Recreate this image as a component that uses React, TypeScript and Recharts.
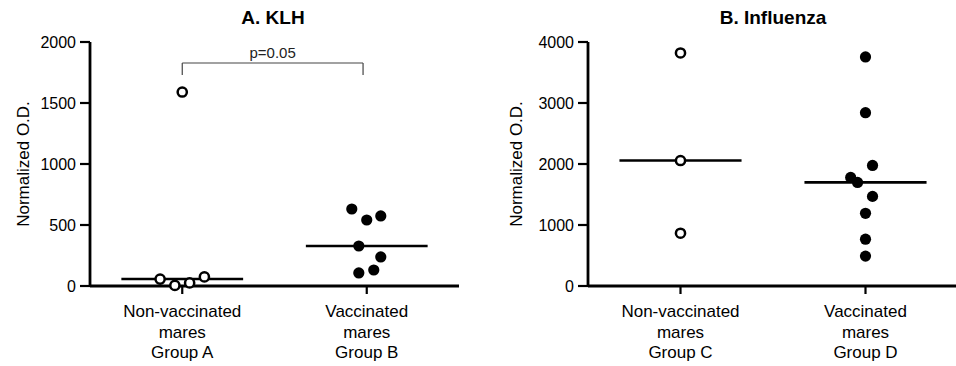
import React from 'react'
import { ScatterChart, Scatter, XAxis, YAxis, ReferenceLine } from 'recharts'

const FONT = '"Liberation Sans", Arial, sans-serif'

// panel A: KLH
const klhCategories = [
    ['Non-vaccinated', 'mares', 'Group A'],
    ['Vaccinated', 'mares', 'Group B'],
]
const klhTicks = [0, 500, 1000, 1500, 2000]
const groupAValues = [1590, 57, 5, 25, 74]
const groupAJitter = [0, -0.12, -0.04, 0.04, 0.12]
const groupBValues = [631, 541, 574, 328, 238, 107, 131]
const groupBJitter = [-0.081, 0, 0.076, -0.043, 0.076, -0.043, 0.038]
const klhMedians = [57, 328]
const klhPValue = 'p=0.05'
const klhBracket = { y: 1828, leg: 1730, from: 0.5, to: 1.48 }

// panel B: Influenza
const fluCategories = [
    ['Non-vaccinated', 'mares', 'Group C'],
    ['Vaccinated', 'mares', 'Group D'],
]
const fluTicks = [0, 1000, 2000, 3000, 4000]
const groupCValues = [3820, 2057, 865]
const groupCJitter = [0, 0, 0]
const groupDValues = [3755, 2841, 1976, 1780, 1698, 1469, 1192, 767, 490]
const groupDJitter = [0, 0, 0.038, -0.08, -0.043, 0.038, 0, 0, 0]
const fluMedians = [2057, 1698]

const groupPositions = [0.5, 1.5]
const MEDIAN_HALF = 0.33

const toPoints = (values: number[], jitter: number[], pos: number) =>
    values.map((v, i) => ({ x: pos + jitter[i], y: v }))

const OpenDot = (props: any) => (
    <circle cx={props.cx} cy={props.cy} r={4.6} fill="#fff" stroke="#000" strokeWidth={2.5} />
)
const FilledDot = (props: any) => (
    <circle cx={props.cx} cy={props.cy} r={5.6} fill="#000" />
)

function makeTick(categories: string[][]) {
    return function CategoryTick(props: any) {
        const { x, y, payload } = props
        const idx = groupPositions.indexOf(payload.value)
        const lines = categories[idx] || []
        return (
            <g>
                {lines.map((line, i) => (
                    <text
                        key={i}
                        x={x}
                        y={y + 21 + i * 20.5}
                        textAnchor="middle"
                        fontSize={17}
                        fontFamily={FONT}
                        fill="#000"
                    >
                        {line}
                    </text>
                ))}
            </g>
        )
    }
}

interface PanelProps {
    width: number
    yAxisWidth: number
    yMax: number
    yTicks: number[]
    categories: string[][]
    open: { x: number; y: number }[]
    filled: { x: number; y: number }[]
    medians: number[]
    labelDx: number
    children?: React.ReactNode
}

function Panel({ width, yAxisWidth, yMax, yTicks, categories, open, filled, medians, labelDx, children }: PanelProps) {
    return (
        <ScatterChart
            width={width}
            height={366}
            margin={{ top: 42, right: 0, bottom: 0, left: 0 }}
        >
            <XAxis
                type="number"
                dataKey="x"
                domain={[0, 2]}
                ticks={groupPositions}
                allowDataOverflow
                height={80}
                axisLine={{ stroke: '#000', strokeWidth: 2.8 }}
                tickLine={{ stroke: '#000', strokeWidth: 2.2 }}
                tickSize={8}
                tick={makeTick(categories)}
            />
            <YAxis
                type="number"
                dataKey="y"
                domain={[0, yMax]}
                ticks={yTicks}
                width={yAxisWidth}
                axisLine={{ stroke: '#000', strokeWidth: 2.8 }}
                tickLine={{ stroke: '#000', strokeWidth: 2.2 }}
                tickSize={10}
                tickMargin={4}
                tick={{ fill: '#000', fontSize: 16, fontFamily: FONT }}
                label={{
                    value: 'Normalized O.D.',
                    angle: -90,
                    position: 'center',
                    dx: labelDx,
                    fill: '#000',
                    fontSize: 17,
                    fontFamily: FONT,
                }}
            />
            {medians.map((m, i) => (
                <ReferenceLine
                    key={'m' + i}
                    segment={[
                        { x: groupPositions[i] - MEDIAN_HALF, y: m },
                        { x: groupPositions[i] + MEDIAN_HALF, y: m },
                    ]}
                    stroke="#000"
                    strokeWidth={2.6}
                />
            ))}
            {children}
            <Scatter data={open} shape={OpenDot} isAnimationActive={false} />
            <Scatter data={filled} shape={FilledDot} isAnimationActive={false} />
        </ScatterChart>
    )
}

const titleStyle = (center: number): React.CSSProperties => ({
    position: 'absolute',
    left: center - 100,
    width: 200,
    top: 7,
    textAlign: 'center',
    fontFamily: FONT,
    fontWeight: 'bold',
    fontSize: 19,
    lineHeight: '22px',
    color: '#000',
})

export default function App() {
    const b = klhBracket
    return (
        <div
            style={{
                position: 'absolute',
                left: 0,
                top: 0,
                width: 956,
                height: 366,
                overflow: 'hidden',
                background: '#fff',
            }}
        >
            <div style={{ position: 'absolute', left: 0, top: 0 }}>
                <Panel
                    width={480 - 21}
                    yAxisWidth={90}
                    yMax={2000}
                    yTicks={klhTicks}
                    categories={klhCategories}
                    open={toPoints(groupAValues, groupAJitter, groupPositions[0])}
                    filled={toPoints(groupBValues, groupBJitter, groupPositions[1])}
                    medians={klhMedians}
                    labelDx={-22.5}
                >
                    <ReferenceLine
                        segment={[{ x: b.from, y: b.y }, { x: b.to, y: b.y }]}
                        stroke="#444"
                        strokeWidth={1.2}
                        label={{ value: klhPValue, position: 'top', fill: '#222', fontSize: 15, fontFamily: FONT, offset: 5 }}
                    />
                    <ReferenceLine
                        segment={[{ x: b.from, y: b.y }, { x: b.from, y: b.leg }]}
                        stroke="#444"
                        strokeWidth={1.2}
                    />
                    <ReferenceLine
                        segment={[{ x: b.to, y: b.y }, { x: b.to, y: b.leg }]}
                        stroke="#444"
                        strokeWidth={1.2}
                    />
                </Panel>
            </div>
            <div style={{ position: 'absolute', left: 480, top: 0 }}>
                <Panel
                    width={478}
                    yAxisWidth={108}
                    yMax={4000}
                    yTicks={fluTicks}
                    categories={fluCategories}
                    open={toPoints(groupCValues, groupCJitter, groupPositions[0])}
                    filled={toPoints(groupDValues, groupDJitter, groupPositions[1])}
                    medians={fluMedians}
                    labelDx={-18.5}
                />
            </div>
            <div style={titleStyle(273)}>A. KLH</div>
            <div style={titleStyle(773)}>B. Influenza</div>
        </div>
    )
}
